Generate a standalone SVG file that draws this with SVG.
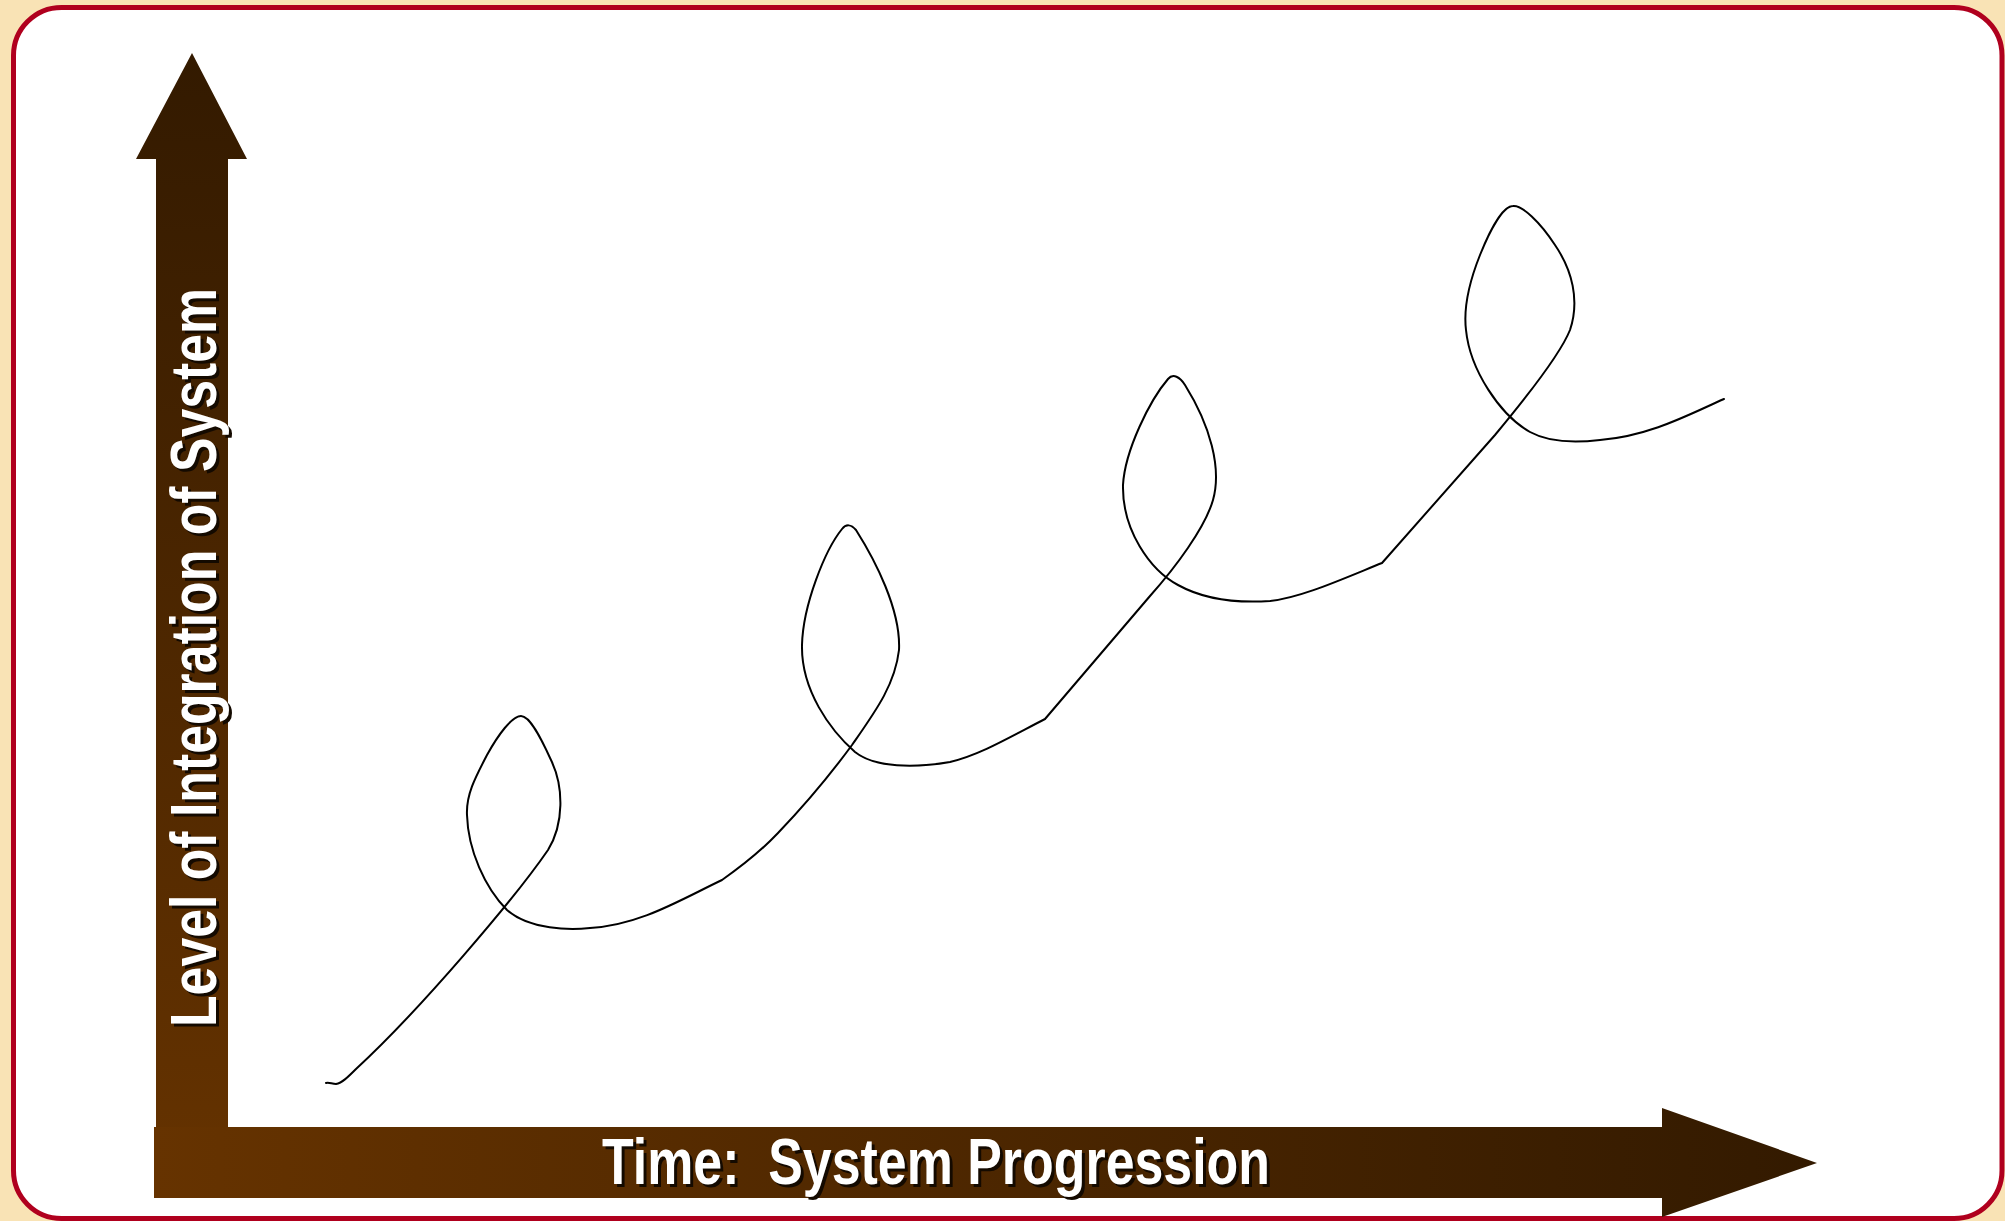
<svg xmlns="http://www.w3.org/2000/svg" width="2005" height="1221" viewBox="0 0 2005 1221">
  <style>
    .lbl { font-family: "Liberation Sans Narrow", "Liberation Sans", Arial, sans-serif; font-size: 64px; font-weight: bold; }
    .lbl-fg { fill: #ffffff; }
    .lbl-sh { fill: #140a00; }
    .curve { fill: none; stroke: #000000; stroke-width: 2; stroke-linejoin: round; stroke-linecap: round; }
  </style>
  <defs>
    <linearGradient id="gradV" gradientUnits="userSpaceOnUse" x1="0" y1="53" x2="0" y2="1198">
      <stop offset="0" stop-color="#331a00"/>
      <stop offset="1" stop-color="#663300"/>
    </linearGradient>
    <linearGradient id="gradH" gradientUnits="userSpaceOnUse" x1="154" y1="0" x2="1817" y2="0">
      <stop offset="0" stop-color="#663300"/>
      <stop offset="1" stop-color="#331a00"/>
    </linearGradient>
  </defs>

  <g id="frame">
    <rect x="0" y="0" width="2005" height="1221" fill="#f9e3b5"/>
    <rect x="13.5" y="7.5" width="1988.5" height="1211" rx="48" ry="48" fill="#ffffff" stroke="#b0001e" stroke-width="5"/>
  </g>

  <g id="x-axis">
    <polygon points="154,1127 1662,1127 1662,1108 1817,1163 1662,1217 1662,1198 154,1198" fill="url(#gradH)"/>
    <text class="lbl lbl-sh" x="605" y="1187" textLength="668" lengthAdjust="spacingAndGlyphs" xml:space="preserve">Time:  System Progression</text>
    <text class="lbl lbl-fg" x="602" y="1184" textLength="668" lengthAdjust="spacingAndGlyphs" xml:space="preserve">Time:  System Progression</text>
  </g>

  <g id="y-axis">
    <polygon points="156,1127 156,159 136,159 192,53 247,159 228,159 228,1127" fill="url(#gradV)"/>
    <text class="lbl lbl-sh" transform="translate(219,1030) rotate(-90)" x="0" y="0" textLength="739" lengthAdjust="spacingAndGlyphs">Level of Integration of System</text>
    <text class="lbl lbl-fg" transform="translate(216,1027) rotate(-90)" x="0" y="0" textLength="739" lengthAdjust="spacingAndGlyphs">Level of Integration of System</text>
  </g>

  <g id="connectors">
    <path class="curve" d="M326,1083 C329,1082 332,1084 336,1084 C342,1083 348,1077 356,1069
      C420,1010 515,898 548,850
      C564,824 564,787 551,760
      C541,738 530,716 521,716
      C512,716 498,735 487,755
      C475,778 466,795 467,815
      C468,850 485,888 507,910
      C530,930 570,930 590,928
      C640,925 680,900 722,880
      C742,866 760,852 778,833
      C800,810 830,775 852,745
      C875,712 895,685 899,650
      C901,610 875,560 856,530
      C851,524 846,524 842,529
      C825,550 803,605 802,645
      C801,690 830,730 855,752
      C875,768 915,768 950,762
      C980,755 1010,737 1045,719
      L1150,596
      C1175,568 1205,528 1213,500
      C1222,468 1210,425 1185,385
      C1180,377 1173,373 1168,379
      C1150,400 1125,450 1123,485
      C1122,530 1150,570 1178,585
      C1205,600 1240,603 1270,601
      C1300,598 1340,580 1382,563
      L1495,435
      C1520,405 1560,355 1570,330
      C1580,300 1572,270 1555,245
      C1540,222 1522,205 1513,206
      C1503,206 1490,230 1480,255
      C1470,280 1463,305 1466,330
      C1470,370 1500,415 1530,432
      C1550,443 1575,443 1600,440
      C1650,436 1690,414 1724,399"/>
  </g>
</svg>
